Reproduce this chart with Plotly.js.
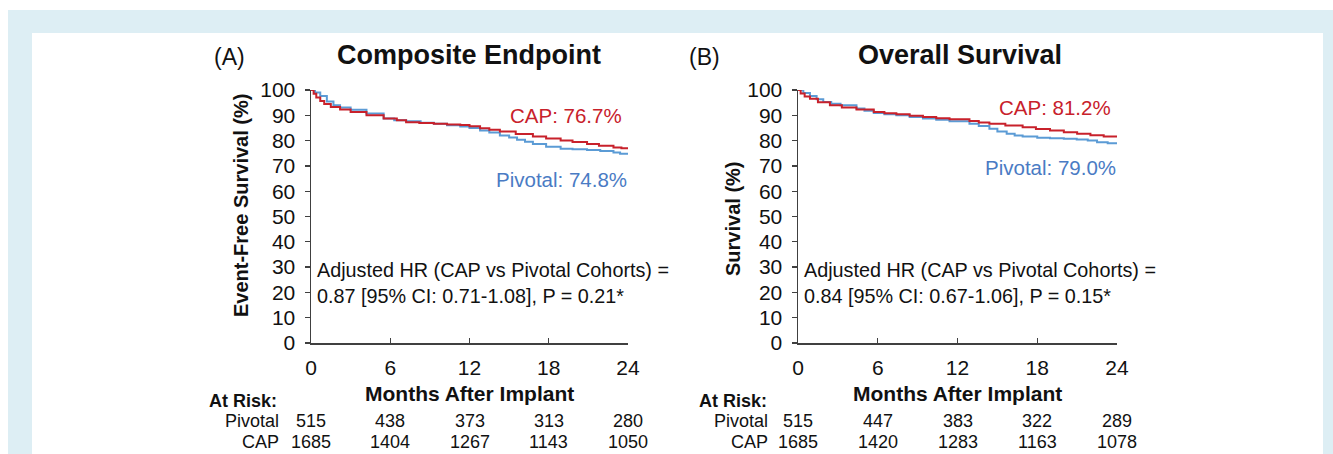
<!DOCTYPE html>
<html>
<head>
<meta charset="utf-8">
<script src="https://cdn.plot.ly/plotly-3.0.1.min.js"></script>
<style>
  html, body { margin: 0; padding: 0; background: #ffffff; }
  #chart { width: 1333px; height: 454px; }
</style>
</head>
<body>
<div id="chart"></div>
<script>
// ---------- Data ----------
const monthTicks = [0, 6, 12, 18, 24];
const yTicks = [0, 10, 20, 30, 40, 50, 60, 70, 80, 90, 100];

// Panel A: Composite Endpoint (event-free survival, %)
const aCapMonths = [0, 0.2, 0.4, 0.7, 1.0, 1.5, 2.2, 3.0, 4.2, 5.5, 6.5, 7.2, 8.2, 9.3, 10.3, 11.3, 12.0, 12.8, 13.5, 14.3, 15.5, 16.8, 17.8, 18.9, 19.8, 20.9, 21.8, 22.9, 23.5, 24.0];
const aCapValues = [100, 98.5, 97.0, 95.7, 94.5, 93.3, 92.3, 91.3, 90.0, 88.7, 88.0, 87.3, 87.0, 86.7, 86.4, 86.2, 85.7, 84.9, 84.3, 83.6, 82.6, 81.6, 80.8, 80.0, 79.4, 78.7, 78.0, 77.3, 77.0, 76.7];
const aPivMonths = [0, 0.3, 0.7, 1.2, 1.7, 2.2, 3.0, 4.2, 5.5, 6.3, 7.2, 8.3, 9.3, 10.3, 11.3, 12.0, 12.8, 13.5, 14.3, 15.0, 15.6, 16.2, 16.8, 17.8, 18.9, 19.8, 20.9, 21.9, 22.9, 23.4, 24.0];
const aPivValues = [100, 99.0, 97.6, 95.5, 94.0, 93.1, 92.2, 90.7, 88.7, 88.0, 87.6, 87.1, 86.7, 86.1, 85.6, 85.0, 84.0, 83.2, 82.0, 81.2, 80.3, 79.5, 78.7, 77.6, 76.8, 76.6, 76.3, 75.9, 75.3, 74.8, 74.8];

// Panel B: Overall Survival (%)
const bCapMonths = [0, 0.2, 0.5, 0.9, 1.5, 2.4, 3.3, 4.4, 5.7, 6.5, 7.4, 8.4, 9.4, 10.4, 11.4, 12.9, 13.6, 14.4, 15.6, 16.9, 17.9, 18.96, 20.0, 21.0, 22.0, 23.0, 24.0];
const bCapValues = [100, 98.6, 97.4, 96.5, 95.2, 94.0, 93.1, 92.3, 91.3, 90.8, 90.4, 89.8, 89.3, 88.8, 88.4, 87.7, 87.2, 86.7, 86.0, 85.3, 84.6, 84.0, 83.3, 82.7, 82.1, 81.6, 81.2];
const bPivMonths = [0, 0.4, 0.9, 1.4, 1.9, 2.5, 3.2, 4.4, 5.0, 5.7, 6.5, 7.4, 8.4, 9.4, 10.4, 11.4, 12.9, 13.6, 14.4, 15.0, 15.7, 16.3, 16.9, 18.0, 18.96, 20.0, 20.97, 21.8, 22.5, 23.3, 24.0];
const bPivValues = [100, 98.8, 97.6, 96.3, 95.3, 94.6, 94.0, 92.7, 91.8, 90.9, 90.4, 90.0, 89.3, 88.7, 88.2, 87.6, 86.7, 85.8, 84.7, 83.6, 82.7, 82.0, 81.6, 81.1, 80.9, 80.7, 80.4, 80.0, 79.3, 79.0, 79.0];

// At-risk tables
const riskRowLabels = ["Pivotal", "CAP"];
const aRiskPivotal = [515, 438, 373, 313, 280];
const aRiskCap = [1685, 1404, 1267, 1143, 1050];
const bRiskPivotal = [515, 447, 383, 322, 289];
const bRiskCap = [1685, 1420, 1283, 1163, 1078];

// Text
const panelLabels = ["(A)", "(B)"];
const panelTitles = ["Composite Endpoint", "Overall Survival"];
const yTitles = ["Event-Free Survival (%)", "Survival (%)"];
const xTitle = "Months After Implant";
const capLabels = ["CAP: 76.7%", "CAP: 81.2%"];
const pivLabels = ["Pivotal: 74.8%", "Pivotal: 79.0%"];
const hrLine1 = "Adjusted HR (CAP vs Pivotal Cohorts) =";
const hrLine2 = ["0.87 [95% CI: 0.71-1.08], P = 0.21*", "0.84 [95% CI: 0.67-1.06], P = 0.15*"];

// ---------- Styling ----------
const W = 1333, H = 454;
const px = v => v / W;
const py = v => 1 - v / H;
const FONT = "Liberation Sans, Arial, sans-serif";
const RED = "#c8212b", BLUE_LINE = "#5b9bd5", BLUE_TEXT = "#4a7bc4", AXIS = "#404040";

const traces = [
  {x: aPivMonths, y: aPivValues, xaxis: "x", yaxis: "y", mode: "lines", line: {shape: "hv", color: BLUE_LINE, width: 2}, hoverinfo: "skip"},
  {x: aCapMonths, y: aCapValues, xaxis: "x", yaxis: "y", mode: "lines", line: {shape: "hv", color: RED, width: 2}, hoverinfo: "skip"},
  {x: bPivMonths, y: bPivValues, xaxis: "x2", yaxis: "y2", mode: "lines", line: {shape: "hv", color: BLUE_LINE, width: 2}, hoverinfo: "skip"},
  {x: bCapMonths, y: bCapValues, xaxis: "x2", yaxis: "y2", mode: "lines", line: {shape: "hv", color: RED, width: 2}, hoverinfo: "skip"}
];

function xAxis(domain, anchor) {
  return {
    domain: domain, anchor: anchor, range: [0, 24], tickvals: monthTicks,
    ticks: "inside", ticklen: 5, tickwidth: 1.3, tickcolor: AXIS,
    showline: true, linecolor: AXIS, linewidth: 1.5, showgrid: false, zeroline: false,
    tickfont: {family: FONT, size: 21, color: "#111"}, ticklabelstandoff: 5, fixedrange: true
  };
}
function yAxis(anchor) {
  return {
    domain: [py(343), py(90)], anchor: anchor, range: [0, 100], tickvals: yTicks,
    ticks: "outside", ticklen: 5, tickwidth: 1.3, tickcolor: AXIS,
    showline: true, linecolor: AXIS, linewidth: 1.5, showgrid: false, zeroline: false,
    tickfont: {family: FONT, size: 21, color: "#111"}, ticklabelstandoff: 5, fixedrange: true
  };
}

const ann = [];
function txt(text, x, y, opts) {
  ann.push(Object.assign({
    text: text, x: x, y: y, xref: "paper", yref: "paper", showarrow: false,
    xanchor: "center", yanchor: "middle",
    font: {family: FONT, size: 19, color: "#111"}
  }, opts || {}));
}

const panels = [
  {xref: "x", x0: 311, x1: 628, labelX: 229, titleX: 469, yTitleX: 241, yTitleY: 206, riskLabelX: 243, rowRight: 281,
   risk: [aRiskPivotal, aRiskCap], capY: 115, pivY: 179, hrX: 315},
  {xref: "x2", x0: 798, x1: 1117, labelX: 704, titleX: 960, yTitleX: 733, yTitleY: 219, riskLabelX: 733, rowRight: 770,
   risk: [bRiskPivotal, bRiskCap], capY: 108, pivY: 167, hrX: 802}
];

panels.forEach((p, i) => {
  txt(panelLabels[i], px(p.labelX), py(57), {font: {family: FONT, size: 23, color: "#111"}});
  txt("<b>" + panelTitles[i] + "</b>", px(p.titleX), py(55), {font: {family: FONT, size: 27, color: "#111"}});
  txt("<b>" + yTitles[i] + "</b>", px(p.yTitleX), py(p.yTitleY), {textangle: -90, font: {family: FONT, size: 20, color: "#111"}});
  txt("<b>" + xTitle + "</b>", px((p.x0 + p.x1) / 2), py(393), {font: {family: FONT, size: 21, color: "#111"}});
  txt("<b>At Risk:</b>", px(p.riskLabelX), py(401), {font: {family: FONT, size: 18, color: "#111"}});
  riskRowLabels.forEach((lab, r) => {
    const yy = py(421 + r * 21);
    txt(lab, px(p.rowRight), yy, {xanchor: "right", font: {family: FONT, size: 18, color: "#111"}});
    p.risk[r].forEach((n, k) => {
      ann.push({text: String(n), x: monthTicks[k], xref: p.xref, y: yy, yref: "paper", showarrow: false,
        xanchor: "center", yanchor: "middle", font: {family: FONT, size: 18, color: "#111"}});
    });
  });
  txt(capLabels[i], px(p.x1 - 4), py(p.capY), {xanchor: "right", font: {family: FONT, size: 20.5, color: RED}});
  txt(pivLabels[i], px(p.x1 + 1), py(p.pivY), {xanchor: "right", font: {family: FONT, size: 20.5, color: BLUE_TEXT}});
  txt(hrLine1, px(p.hrX), py(270), {xanchor: "left", font: {family: FONT, size: 19.8, color: "#111"}});
  txt(hrLine2[i], px(p.hrX), py(296), {xanchor: "left", font: {family: FONT, size: 19.8, color: "#111"}});
});

const layout = {
  width: W, height: H,
  margin: {l: 0, r: 0, t: 0, b: 0, pad: 0},
  paper_bgcolor: "#ffffff", plot_bgcolor: "rgba(0,0,0,0)",
  showlegend: false,
  xaxis: xAxis([px(311), px(628)], "y"),
  yaxis: yAxis("x"),
  xaxis2: xAxis([px(798), px(1117)], "y2"),
  yaxis2: yAxis("x2"),
  annotations: ann,
  shapes: [
    {type: "rect", xref: "paper", yref: "paper", x0: px(8), x1: px(1333), y0: 0, y1: py(10), fillcolor: "#ddeef4", line: {width: 0}, layer: "below"},
    {type: "rect", xref: "paper", yref: "paper", x0: px(32), x1: px(1323), y0: 0, y1: py(33), fillcolor: "#ffffff", line: {width: 0}, layer: "below"}
  ]
};

Plotly.newPlot("chart", traces, layout, {displayModeBar: false, staticPlot: true});
</script>
</body>
</html>
